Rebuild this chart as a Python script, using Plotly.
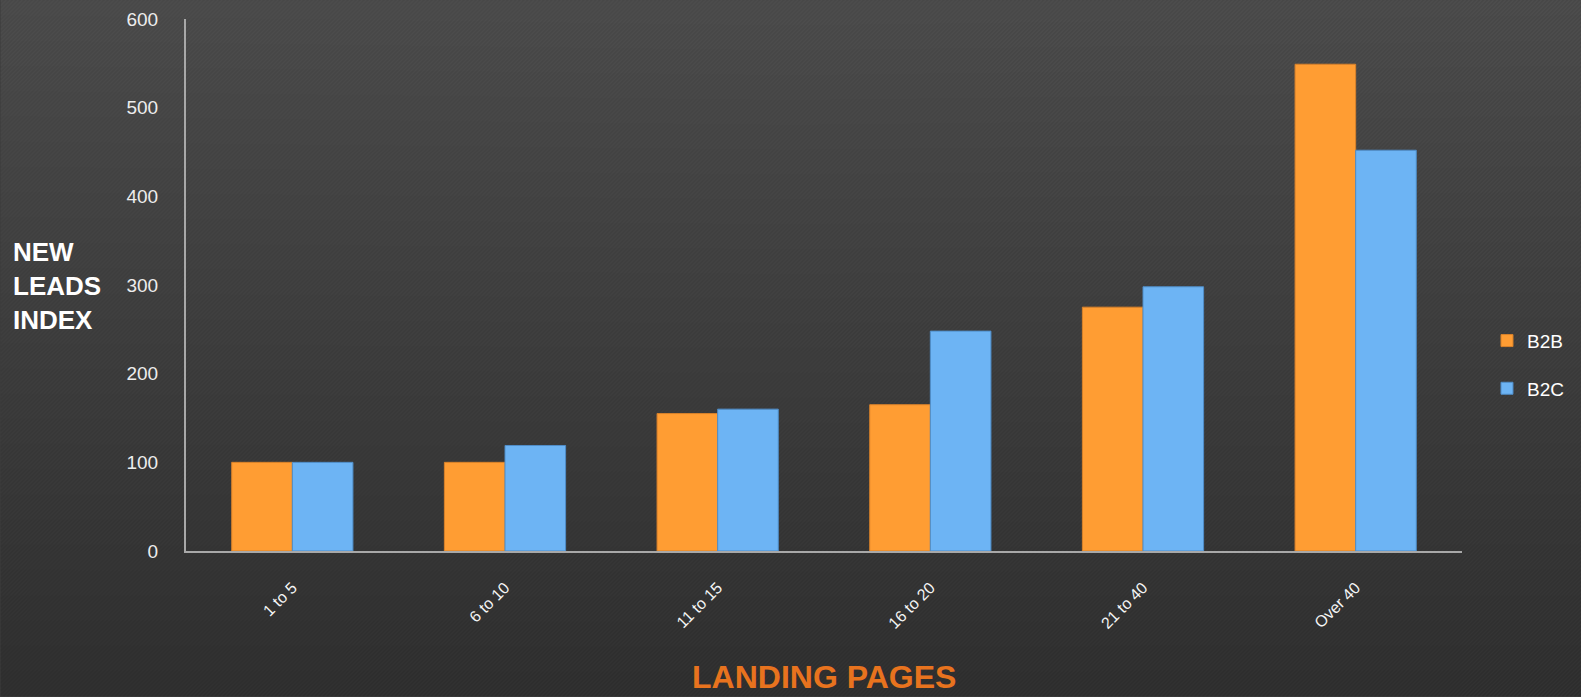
import base64, struct, zlib
import numpy as np
import plotly.graph_objects as go

categories = ["1 to 5", "6 to 10", "11 to 15", "16 to 20", "21 to 40", "Over 40"]
b2b_values = [100, 100, 155, 165, 275, 549]
b2c_values = [100, 119, 160, 248, 298, 452]
y_ticks = [0, 100, 200, 300, 400, 500, 600]

W, H = 1581, 697
L, R, T, B = 185.5, 1462, 19, 551.5

# background texture (styling only): vertical gradient with fine diagonal stripes
yy, xx = np.mgrid[0:H, 0:W]
base = 75 - (75 - 47) * (yy / (H - 1))
cx = 1 - 0.15 * np.abs(xx - W / 2) / (W / 2)
base = 47 + (base - 47) * (0.9 + 0.1 * cx)
stripe = np.where(((xx + yy) % 4) < 2, 3.0, -2.0)
img = np.clip(base + stripe, 0, 255).astype(np.uint8)
rgb = np.stack([img, img, img], axis=-1)
raw = b"".join(b"\x00" + rgb[r].tobytes() for r in range(H))
def chunk(tag, data):
    c = struct.pack(">I", len(data)) + tag + data
    return c + struct.pack(">I", zlib.crc32(tag + data) & 0xffffffff)
png = b"\x89PNG\r\n\x1a\n" + chunk(b"IHDR", struct.pack(">IIBBBBB", W, H, 8, 2, 0, 0, 0)) \
    + chunk(b"IDAT", zlib.compress(raw, 9)) + chunk(b"IEND", b"")
uri = "data:image/png;base64," + base64.b64encode(png).decode()

pw, ph = R - L, B - T

fig = go.Figure()
fig.add_trace(go.Bar(x=categories, y=b2b_values, name="B2B", legendgroup="b2b",
                     marker=dict(color="#FF9D33", line=dict(color="#D9822A", width=1))))
fig.add_trace(go.Bar(x=categories, y=b2c_values, name="B2C", legendgroup="b2c",
                     marker=dict(color="#6DB4F4", line=dict(color="#4F8DC8", width=1))))

fig.update_layout(
    width=W, height=H,
    margin=dict(l=L, r=W - R, t=T, b=H - B, pad=0, autoexpand=False),
    paper_bgcolor="#3c3c3c", plot_bgcolor="rgba(0,0,0,0)",
    barmode="group", bargap=0.43, bargroupgap=0,
    font=dict(family="Liberation Sans, Arial, sans-serif", color="#F0F0F0"),
    showlegend=True,
    legend=dict(x=(1487 - L) / pw, y=(B - 322) / ph, xanchor="left", yanchor="top",
                font=dict(size=19, color="#FFFFFF"), bgcolor="rgba(0,0,0,0)",
                itemwidth=30, tracegroupgap=20),
    images=[dict(source=uri, xref="paper", yref="paper", x=-L / pw, y=1 + T / ph,
                 sizex=W / pw, sizey=H / ph, sizing="stretch", layer="below")],
)
fig.update_yaxes(range=[0, 600], tickvals=y_ticks, showgrid=False, zeroline=False,
                 showline=True, linecolor="#A8A8A8", linewidth=2,
                 ticks="", ticklabelstandoff=22,
                 tickfont=dict(size=19, color="#EDEDED"))
fig.update_xaxes(showgrid=False, showline=True, linecolor="#A8A8A8", linewidth=2,
                 ticks="", tickangle=-45, ticklabelstandoff=19,
                 tickfont=dict(size=16, color="#F5F5F5"))

fig.add_annotation(text="<b>NEW<br>LEADS<br>INDEX</b>", xref="paper", yref="paper",
                   x=-(L - 10) / pw, y=(B - 235) / ph, xanchor="left", yanchor="top",
                   align="left", showarrow=False,
                   font=dict(size=26, color="#FFFFFF", family="Liberation Sans Narrow, Arial Narrow, sans-serif"))
fig.add_annotation(text="<b>LANDING PAGES</b>", xref="paper", yref="paper",
                   x=0.5, y=-(678 - B) / ph, xanchor="center", yanchor="middle",
                   showarrow=False,
                   font=dict(size=32, color="#E8731E", family="Liberation Sans Narrow, Arial Narrow, sans-serif"))

fig.write_html("out.html", config={"displayModeBar": False},
               post_script="document.body.style.margin='0';document.body.style.overflow='hidden';")
